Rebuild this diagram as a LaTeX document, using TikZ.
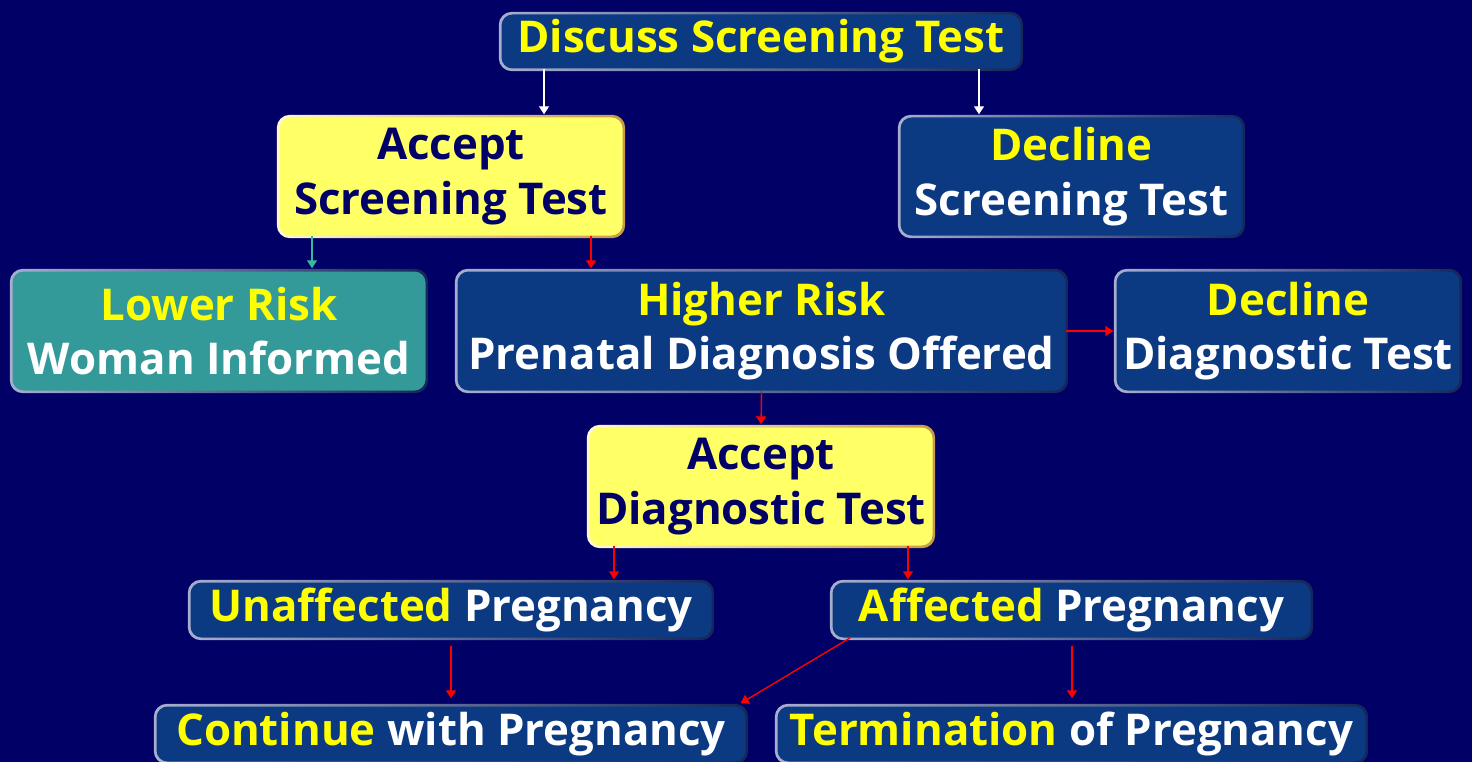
\documentclass[tikz,border=0pt]{standalone}
\usepackage{fontspec}
\setmainfont{Open Sans}
\usetikzlibrary{arrows.meta,backgrounds}
\definecolor{bg}{HTML}{000066}
\definecolor{boxblue}{HTML}{0B3A82}
\definecolor{teal}{HTML}{339999}
\definecolor{paleyel}{HTML}{FFFF66}
\definecolor{hiyel}{HTML}{FFFF00}
\definecolor{navy}{HTML}{000066}
\definecolor{bordL}{HTML}{A8AED0}
\definecolor{bordR}{HTML}{14265A}
\definecolor{goldL}{HTML}{FFF8D8}
\definecolor{goldR}{HTML}{C89A48}
\definecolor{arrred}{HTML}{FF0000}
\definecolor{arrgreen}{HTML}{33BB99}
\newcommand\yel[1]{\textcolor{hiyel}{#1}}

\begin{document}
\begin{tikzpicture}[x=1pt,y=-1pt,
  box/.style={rounded corners=11pt,align=center,inner sep=0pt,text=white,
    font=\fontsize{43.8}{54.5}\selectfont\bfseries},
  bluebox/.style={box,fill=boxblue},
  tealbox/.style={box,fill=teal},
  yelbox/.style={box,fill=paleyel,text=navy},
  arr/.style={-{Triangle[length=8pt,width=10pt]},line width=1.4pt,shorten >=3pt},
  redarr/.style={arr,draw=arrred,fill=arrred},
  whitearr/.style={arr,draw=white,fill=white},
  greenarr/.style={arr,draw=arrgreen,fill=arrgreen}
]
  \useasboundingbox (0,0) rectangle (1472,762);
  % boxes, outer border is added on the background layer
  \node[bluebox,minimum width=519pt,minimum height=54pt] (disc) at (761,41.5) {\yel{Discuss Screening Test}};
  \node[yelbox,minimum width=343pt,minimum height=118pt] (accS) at (451,176.5) {Accept\\Screening Test};
  \node[bluebox,minimum width=342pt,minimum height=118pt] (decS) at (1071.5,176.5) {\yel{Decline}\\Screening Test};
  \node[tealbox,minimum width=413pt,minimum height=119pt] (low) at (219,331) {\yel{Lower Risk}\\Woman Informed};
  \node[bluebox,minimum width=608pt,minimum height=119pt] (high) at (761.5,331) {\yel{Higher Risk}\\Prenatal Diagnosis Offered};
  \node[bluebox,minimum width=343pt,minimum height=119pt] (decD) at (1288,331) {\yel{Decline}\\Diagnostic Test};
  \node[yelbox,minimum width=343pt,minimum height=118pt] (accD) at (761,486.5) {Accept\\Diagnostic Test};
  \node[bluebox,minimum width=521pt,minimum height=55pt] (unaf) at (451,610) {\yel{Unaffected} Pregnancy};
  \node[bluebox,minimum width=478pt,minimum height=55pt] (aff) at (1071.5,610) {\yel{Affected} Pregnancy};
  \node[bluebox,minimum width=589pt,minimum height=55pt] (cont) at (451,734) {\yel{Continue} with Pregnancy};
  \node[bluebox,minimum width=588pt,minimum height=55pt] (term) at (1071.5,734) {\yel{Termination} of Pregnancy};

  \begin{scope}[on background layer]
    \fill[bg] (0,0) rectangle (1472,762);
    \foreach \n/\cl/\cr in {disc/bordL/bordR, decS/bordL/bordR, low/bordL/bordR,
        high/bordL/bordR, decD/bordL/bordR, unaf/bordL/bordR, aff/bordL/bordR,
        cont/bordL/bordR, term/bordL/bordR, accS/goldL/goldR, accD/goldL/goldR}
      \shade[left color=\cl,right color=\cr,rounded corners=13pt]
        ([shift={(-2.5pt,2.5pt)}]\n.north west) rectangle ([shift={(2.5pt,-2.5pt)}]\n.south east);
  \end{scope}

  % connectors
  \draw[whitearr] ([xshift=-217pt]disc.south) -- ([xshift=-217pt]disc.south |- accS.north);
  \draw[whitearr] ([xshift=218pt]disc.south) -- ([xshift=218pt]disc.south |- decS.north);
  \draw[greenarr] ([xshift=-139pt]accS.south) -- ([xshift=-139pt]accS.south |- low.north);
  \draw[redarr] ([xshift=140pt]accS.south) -- ([xshift=140pt]accS.south |- high.north);
  \draw[redarr] (high.east) -- (decD.west);
  \draw[redarr] (high.south) -- (accD.north);
  \draw[redarr] ([xshift=-147pt]accD.south) -- ([xshift=-147pt]accD.south |- unaf.north);
  \draw[redarr] ([xshift=147pt]accD.south) -- ([xshift=147pt]accD.south |- aff.north);
  \draw[redarr,shorten <=8pt,shorten >=8pt] (unaf.south) -- (cont.north);
  \draw[redarr,shorten >=0pt] ([xshift=18pt]aff.south west) -- ([shift={(-5pt,3pt)}]cont.north east);
  \draw[redarr,shorten <=8pt,shorten >=8pt] ([xshift=0.5pt]aff.south) -- ([xshift=0.5pt]term.north);
\end{tikzpicture}
\end{document}
